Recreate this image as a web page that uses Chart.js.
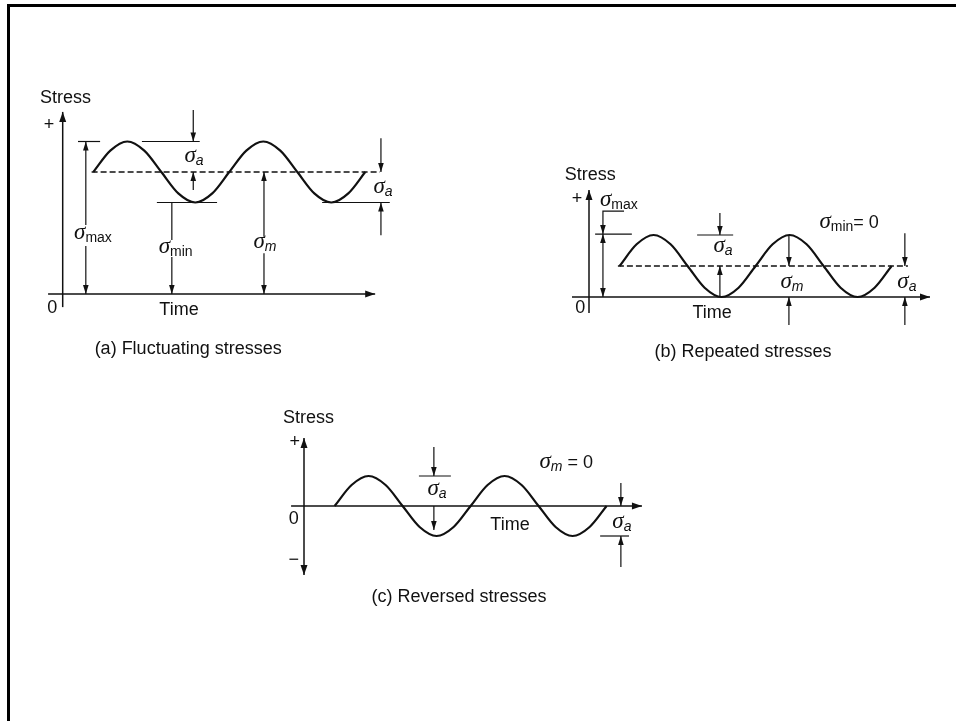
<!DOCTYPE html>
<html>
<head>
<meta charset="utf-8">
<script src="https://cdn.jsdelivr.net/npm/chart.js@4.4.0/dist/chart.umd.min.js"></script>
<style>
html, body { margin: 0; padding: 0; background: #fff; }
#page { position: relative; width: 956px; height: 721px; overflow: hidden; }
#frame { position: absolute; left: 7px; top: 4px; width: 970px; height: 740px; border-top: 3px solid #000; border-left: 3px solid #000; }
canvas { position: absolute; }
</style>
</head>
<body>
<div id="page">
  <div id="frame"></div>
  <canvas id="chartA"></canvas>
  <canvas id="chartB"></canvas>
  <canvas id="chartC"></canvas>
</div>
<script>
// time, in quarter periods measured from the stress axis
const waveTime = [0.9, 1.4, 1.9, 2.4, 2.9, 3.4, 3.9, 4.4, 4.9, 5.4, 5.9, 6.4, 6.9, 7.4, 7.9, 8.4, 8.9];
// stress (amplitude = 1 unit)
const stressA = [4, 4.7, 5, 4.7, 4, 3.3, 3, 3.3, 4, 4.7, 5, 4.7, 4, 3.3, 3, 3.3, 4];
const stressB = [1, 1.7, 2, 1.7, 1, 0.3, 0, 0.3, 1, 1.7, 2, 1.7, 1, 0.3, 0, 0.3, 1];
const stressC = [0, 0.7, 1, 0.7, 0, -0.7, -1, -0.7, 0, 0.7, 1, 0.7, 0, -0.7, -1, -0.7, 0];
// mean stress and the time span of the dashed mean line
const meanA = 4, meanB = 1, meanC = 0;
const meanSpanA = [0.85, 9.33];
const meanSpanB = [0.85, 9.38];
const captions = ['(a) Fluctuating stresses', '(b) Repeated stresses', '(c) Reversed stresses'];

const ink = '#111';
const SANS = '"Liberation Sans", Arial, sans-serif';
const SERIF = '"Liberation Serif", "Times New Roman", serif';

// annotations per panel, in data units of that panel
const panelItems = {
  chartA: [
    { k: 'axis', pts: [[0, -0.43], [0, 5.97]], head: 'end' },
    { k: 'axis', pts: [[-0.43, 0], [9.19, 0]], head: 'end' },
    { k: 'text', at: [-0.67, 6.43], text: 'Stress', align: 'left' },
    { k: 'text', at: [-0.4, 5.54], text: '+' },
    { k: 'text', at: [-0.31, -0.46], text: '0' },
    { k: 'text', at: [3.42, -0.52], text: 'Time' },
    { k: 'dim', pts: [[0.45, 5], [1.1, 5]] },
    { k: 'dim', pts: [[0.68, 2.26], [0.68, 5]], head: 'end' },
    { k: 'dim', pts: [[0.68, 1.57], [0.68, 0]], head: 'end' },
    { k: 'sig', at: [0.89, 1.97], sub: 'max' },
    { k: 'dim', pts: [[2.33, 5], [4.03, 5]] },
    { k: 'dim', pts: [[3.84, 6.03], [3.84, 5]], head: 'end' },
    { k: 'sig', at: [3.86, 4.49], sub: 'a' },
    { k: 'dim', pts: [[3.84, 3.41], [3.84, 4]], head: 'end' },
    { k: 'dim', pts: [[2.77, 3], [4.54, 3]] },
    { k: 'dim', pts: [[3.21, 3], [3.21, 1.77]] },
    { k: 'dim', pts: [[3.21, 1.21], [3.21, 0]], head: 'end' },
    { k: 'sig', at: [3.32, 1.51], sub: 'min' },
    { k: 'dim', pts: [[5.92, 1.88], [5.92, 4]], head: 'end' },
    { k: 'dim', pts: [[5.92, 1.34], [5.92, 0]], head: 'end' },
    { k: 'sig', at: [5.95, 1.66], sub: 'm' },
    { k: 'dim', pts: [[9.36, 5.11], [9.36, 4]], head: 'end' },
    { k: 'dim', pts: [[7.63, 3], [9.62, 3]] },
    { k: 'dim', pts: [[9.36, 1.93], [9.36, 3]], head: 'end' },
    { k: 'sig', at: [9.42, 3.48], sub: 'a' },
    { k: 'text', at: [3.69, -1.8], text: captions[0] }
  ],
  chartB: [
    { k: 'axis', pts: [[0, -0.52], [0, 3.45]], head: 'end' },
    { k: 'axis', pts: [[-0.5, 0], [10.03, 0]], head: 'end' },
    { k: 'text', at: [-0.71, 3.94], text: 'Stress', align: 'left' },
    { k: 'text', at: [-0.35, 3.16], text: '+' },
    { k: 'text', at: [-0.26, -0.36], text: '0' },
    { k: 'text', at: [3.62, -0.52], text: 'Time' },
    { k: 'dim', pts: [[0.18, 2.03], [1.26, 2.03]] },
    { k: 'dim', pts: [[1.03, 2.77], [0.41, 2.77], [0.41, 2.03]], head: 'end' },
    { k: 'dim', pts: [[0.41, 0], [0.41, 2.03]], head: 'both' },
    { k: 'sig', at: [0.88, 3.1], sub: 'max' },
    { k: 'dim', pts: [[3.18, 2], [4.24, 2]] },
    { k: 'dim', pts: [[3.85, 2.71], [3.85, 2]], head: 'end' },
    { k: 'sig', at: [3.94, 1.61], sub: 'a' },
    { k: 'dim', pts: [[3.85, 0], [3.85, 1]], head: 'end' },
    { k: 'dim', pts: [[5.88, 2], [5.88, 1]], head: 'end' },
    { k: 'sig', at: [5.97, 0.45], sub: 'm' },
    { k: 'dim', pts: [[5.88, -0.9], [5.88, 0]], head: 'end' },
    { k: 'sig', at: [7.65, 2.39], sub: 'min', tail: '= 0' },
    { k: 'dim', pts: [[9.29, 2.06], [9.29, 1]], head: 'end' },
    { k: 'dim', pts: [[9.29, -0.9], [9.29, 0]], head: 'end' },
    { k: 'sig', at: [9.35, 0.45], sub: 'a' },
    { k: 'text', at: [4.53, -1.77], text: captions[1] }
  ],
  chartC: [
    { k: 'axis', pts: [[0, -2.3], [0, 2.27]], head: 'both' },
    { k: 'axis', pts: [[-0.38, 0], [9.94, 0]], head: 'end' },
    { k: 'text', at: [-0.62, 2.93], text: 'Stress', align: 'left' },
    { k: 'text', at: [-0.27, 2.13], text: '+' },
    { k: 'text', at: [-0.3, -1.8], text: '\u2212' },
    { k: 'text', at: [-0.3, -0.45], text: '0' },
    { k: 'text', at: [6.06, -0.63], text: 'Time' },
    { k: 'dim', pts: [[3.38, 1], [4.32, 1]] },
    { k: 'dim', pts: [[3.82, 1.97], [3.82, 1]], head: 'end' },
    { k: 'sig', at: [3.91, 0.53], sub: 'a' },
    { k: 'dim', pts: [[3.82, 0], [3.82, -0.8]], head: 'end' },
    { k: 'sig', at: [7.71, 1.43], sub: 'm', tail: ' = 0' },
    { k: 'dim', pts: [[9.32, 0.77], [9.32, 0]], head: 'end' },
    { k: 'dim', pts: [[8.71, -1], [9.56, -1]] },
    { k: 'dim', pts: [[9.32, -2.03], [9.32, -1]], head: 'end' },
    { k: 'sig', at: [9.35, -0.57], sub: 'a' },
    { k: 'text', at: [4.56, -3.03], text: captions[2] }
  ]
};

function arrowHead(ctx, from, to, len, half) {
  const dx = to[0] - from[0], dy = to[1] - from[1];
  const d = Math.hypot(dx, dy) || 1;
  const ux = dx / d, uy = dy / d;
  const bx = to[0] - ux * len, by = to[1] - uy * len;
  ctx.beginPath();
  ctx.moveTo(to[0], to[1]);
  ctx.lineTo(bx - uy * half, by + ux * half);
  ctx.lineTo(bx + uy * half, by - ux * half);
  ctx.closePath();
  ctx.fill();
}

function drawSigma(ctx, cx, cy, sub, tail) {
  const fSig = 'italic 23px ' + SERIF;
  const fSub = (sub.length === 1 ? 'italic ' : '') + '14px ' + SANS;
  const fTail = '18px ' + SANS;
  ctx.font = fSig; const wS = ctx.measureText('\u03c3').width;
  ctx.font = fSub; const wSub = ctx.measureText(sub).width;
  ctx.font = fTail; const wT = tail ? ctx.measureText(tail).width : 0;
  let x = cx - (wS + wSub + wT) / 2;
  const base = cy + 5;
  ctx.textAlign = 'left';
  ctx.textBaseline = 'alphabetic';
  ctx.font = fSig; ctx.fillText('\u03c3', x, base); x += wS;
  ctx.font = fSub; ctx.fillText(sub, x, base + 3); x += wSub;
  if (tail) { ctx.font = fTail; ctx.fillText(tail, x, base); }
}

const sketchPlugin = {
  id: 'sketch',
  afterDatasetsDraw(chart) {
    const items = panelItems[chart.canvas.id] || [];
    const ctx = chart.ctx;
    const sx = chart.scales.x, sy = chart.scales.y;
    const P = ([x, y]) => [sx.getPixelForValue(x), sy.getPixelForValue(y)];
    ctx.save();
    ctx.strokeStyle = ink;
    ctx.fillStyle = ink;
    ctx.lineCap = 'butt';
    items.forEach(it => {
      if (it.k === 'axis' || it.k === 'dim') {
        const pts = it.pts.map(P);
        const axis = it.k === 'axis';
        ctx.lineWidth = axis ? 1.5 : 1.2;
        ctx.beginPath();
        pts.forEach(([x, y], i) => i ? ctx.lineTo(x, y) : ctx.moveTo(x, y));
        ctx.stroke();
        const len = axis ? 10 : 9, half = axis ? 3.5 : 2.8;
        if (it.head === 'end' || it.head === 'both') arrowHead(ctx, pts[pts.length - 2], pts[pts.length - 1], len, half);
        if (it.head === 'both') arrowHead(ctx, pts[1], pts[0], len, half);
      } else if (it.k === 'text') {
        const [x, y] = P(it.at);
        ctx.font = (it.size || 18) + 'px ' + SANS;
        ctx.textAlign = it.align || 'center';
        ctx.textBaseline = 'middle';
        ctx.fillText(it.text, x, y);
      } else if (it.k === 'sig') {
        const [x, y] = P(it.at);
        drawSigma(ctx, x, y, it.sub, it.tail);
      }
    });
    ctx.restore();
  }
};

function buildPanel(p) {
  const [left, top, w, h] = p.rect;
  const [ox, oy] = p.origin;
  const [ux, uy] = p.unit;
  const el = document.getElementById(p.id);
  el.width = w; el.height = h;
  el.style.left = left + 'px';
  el.style.top = top + 'px';
  el.style.width = w + 'px';
  el.style.height = h + 'px';

  const datasets = [{
    data: waveTime.map((t, i) => ({ x: t, y: p.wave[i] })),
    borderColor: ink, borderWidth: 2.2,
    cubicInterpolationMode: 'monotone',
    pointRadius: 0, fill: false
  }];
  if (p.meanSpan) {
    datasets.push({
      data: p.meanSpan.map(t => ({ x: t, y: p.mean })),
      borderColor: ink, borderWidth: 1.3, borderDash: [6, 3],
      pointRadius: 0, fill: false
    });
  }

  new Chart(el, {
    type: 'line',
    data: { datasets },
    options: {
      responsive: false,
      animation: false,
      devicePixelRatio: 1,
      events: [],
      layout: { padding: 0 },
      plugins: { legend: { display: false }, tooltip: { enabled: false } },
      scales: {
        x: { type: 'linear', display: false, min: (left - ox) / ux, max: (left + w - ox) / ux },
        y: { type: 'linear', display: false, min: (oy - top - h) / uy, max: (oy - top) / uy }
      }
    },
    plugins: [sketchPlugin]
  });
}

buildPanel({ id: 'chartA', rect: [10, 80, 420, 290], origin: [62.7, 294], unit: [34, 30.5], wave: stressA, mean: meanA, meanSpan: meanSpanA });
buildPanel({ id: 'chartB', rect: [540, 160, 410, 210], origin: [589, 297], unit: [34, 31], wave: stressB, mean: meanB, meanSpan: meanSpanB });
buildPanel({ id: 'chartC', rect: [260, 400, 420, 215], origin: [304, 506], unit: [34, 30], wave: stressC, mean: meanC, meanSpan: null });
</script>
</body>
</html>
